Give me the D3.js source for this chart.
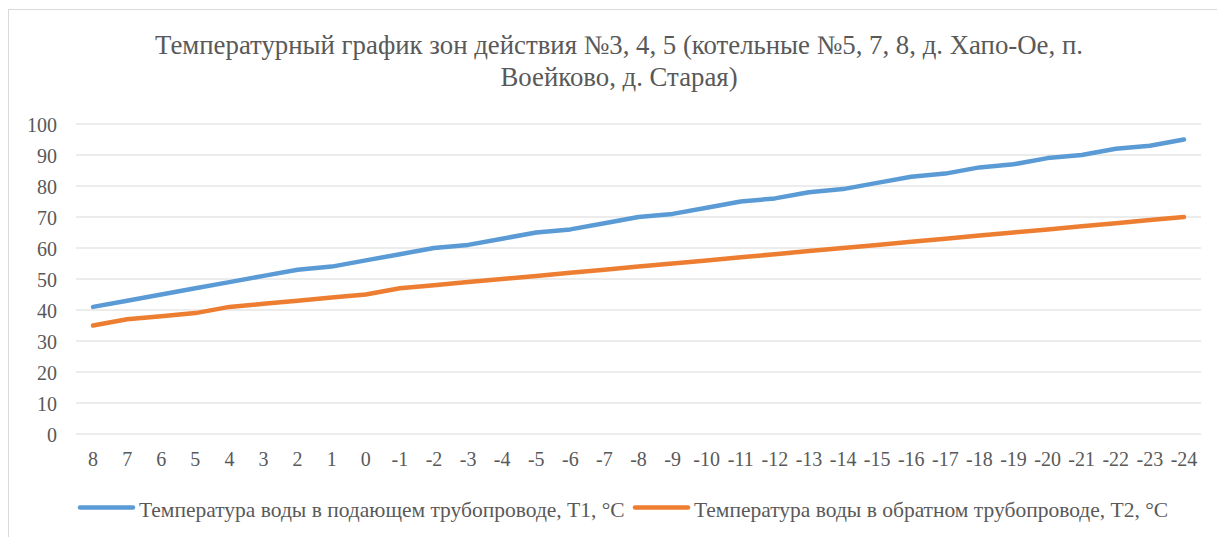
<!DOCTYPE html>
<html><head><meta charset="utf-8">
<script src="https://cdn.jsdelivr.net/npm/d3@7"></script>
<style>body{margin:0;background:#fff;} svg{display:block;} text{font-family:"Liberation Serif","Times New Roman",serif;fill:#595959;}</style>
</head><body>
<svg id="c" width="1217" height="537"></svg>
<script>
const categories = ["8","7","6","5","4","3","2","1","0","-1","-2","-3","-4","-5","-6","-7","-8","-9","-10","-11","-12","-13","-14","-15","-16","-17","-18","-19","-20","-21","-22","-23","-24"];
const t1 = [41,43,45,47,49,51,53,54,56,58,60,61,63,65,66,68,70,71,73,75,76,78,79,81,83,84,86,87,89,90,92,93,95];
const t2 = [35,37,38,39,41,42,43,44,45,47,48,49,50,51,52,53,54,55,56,57,58,59,60,61,62,63,64,65,66,67,68,69,70];
const yTicks = [0,10,20,30,40,50,60,70,80,90,100];
const seriesNames = ["Температура воды в подающем трубопроводе, T1, °C","Температура воды в обратном трубопроводе, T2, °C"];
const colors = ["#5b9bd5","#ed7d31"];
const titleLines = ["Температурный график зон действия №3, 4, 5 (котельные №5, 7, 8, д. Хапо-Ое, п.","Воейково, д. Старая)"];

const svg = d3.select("#c");
svg.append("rect").attr("x",8.5).attr("y",9.5).attr("width",1230).attr("height",540)
  .attr("fill","#fff").attr("stroke","#d9d9d9");

const x = d3.scaleBand().domain(categories).range([76,1201]);
const y = d3.scaleLinear().domain([0,100]).range([434,124]);

svg.append("g").selectAll("line").data(yTicks).join("line")
  .attr("x1",76).attr("x2",1201).attr("y1",d=>y(d)).attr("y2",d=>y(d))
  .attr("stroke","#d9d9d9").attr("stroke-width",1.2);

const yAxis = svg.append("g").attr("transform","translate(76,0)")
  .call(d3.axisLeft(y).tickValues(yTicks).tickSize(0).tickPadding(19));
yAxis.attr("font-family",null);
yAxis.select(".domain").remove();
yAxis.selectAll("text").attr("fill",null).style("font-family","Liberation Serif").style("font-size","20px").attr("dy","0.35em");

const xAxis = svg.append("g").attr("transform","translate(0,434)")
  .call(d3.axisBottom(x).tickSize(0).tickPadding(18));
xAxis.attr("font-family",null);
xAxis.select(".domain").remove();
xAxis.selectAll("text").attr("fill",null).style("font-family","Liberation Serif").style("font-size","20px");

const line = d3.line().x((d,i)=>x(categories[i])+x.bandwidth()/2).y(d=>y(d));
[t1,t2].forEach((s,k)=>{
  svg.append("path").datum(s).attr("d",line).attr("fill","none")
    .attr("stroke",colors[k]).attr("stroke-width",4.5).attr("stroke-linecap","round").attr("stroke-linejoin","round");
});

svg.append("g").selectAll("text").data(titleLines).join("text")
  .attr("x",619).attr("y",(d,i)=>54+i*32).attr("text-anchor","middle")
  .style("font-family","Liberation Serif").style("font-size","26.8px").text(d=>d);

const legX = [78,633];
const lg = svg.append("g");
seriesNames.forEach((n,k)=>{
  lg.append("line").attr("x1",legX[k]+2).attr("x2",legX[k]+55).attr("y1",507.5).attr("y2",507.5)
    .attr("stroke",colors[k]).attr("stroke-width",4.5).attr("stroke-linecap","round");
  lg.append("text").attr("x",legX[k]+61).attr("y",517)
    .style("font-family","Liberation Serif").style("font-size","21.5px").text(n);
});
</script>
</body></html>
